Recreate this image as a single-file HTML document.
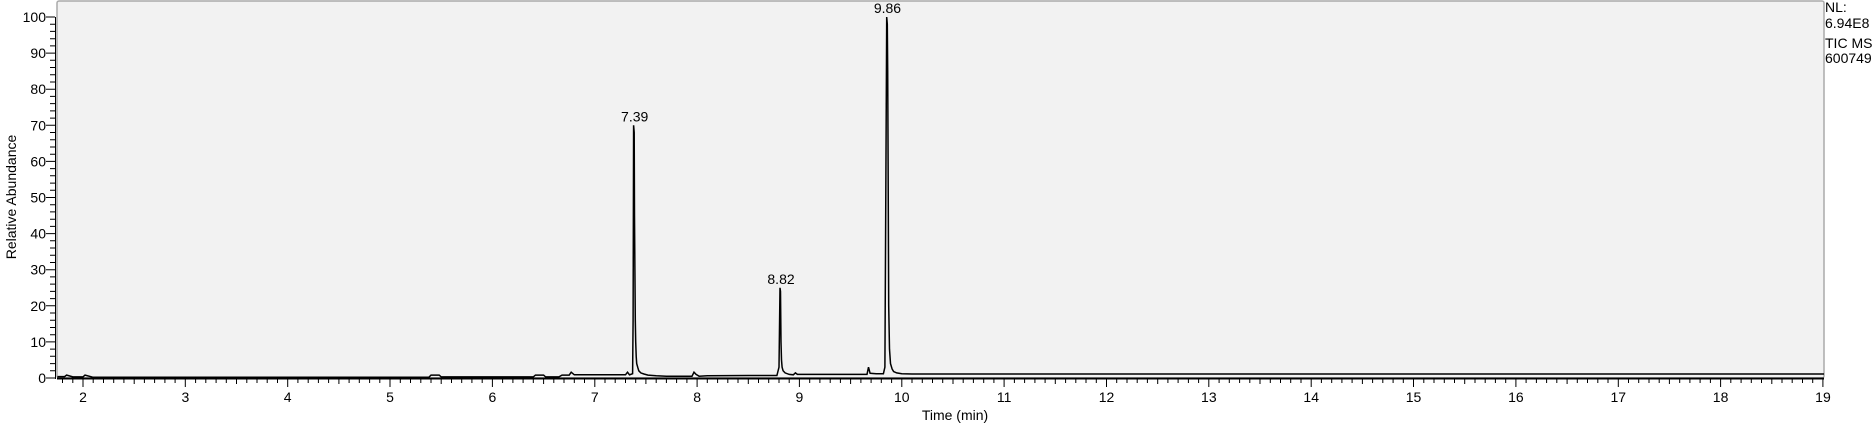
<!DOCTYPE html>
<html><head><meta charset="utf-8"><style>
html,body{margin:0;padding:0;background:#fff;}
svg{display:block;font-family:"Liberation Sans",Arial,sans-serif;}
</style></head><body>
<svg id="chart" width="1876" height="427" viewBox="0 0 1876 427" xmlns="http://www.w3.org/2000/svg">
<rect x="57" y="1" width="1767" height="377" fill="#f2f2f2" stroke="#aaaaaa" stroke-width="1.5" rx="2"/>
<g id="ticks"></g>
<path id="trace" fill="none" stroke="#000" stroke-width="1.5"/>
<line x1="57" y1="378.5" x2="1824" y2="378.5" stroke="#000" stroke-width="2"/>
<line x1="55.5" y1="17" x2="55.5" y2="379" stroke="#000" stroke-width="1"/>
<g id="labels"></g>
<text x="955" y="420" font-size="14" text-anchor="middle">Time (min)</text>
<text transform="translate(16,197) rotate(-90)" font-size="14" text-anchor="middle">Relative Abundance</text>
<g font-size="14">
<text x="1825" y="12">NL:</text>
<text x="1825" y="28">6.94E8</text>
<text x="1825" y="48">TIC  MS</text>
<text x="1825" y="63">600749</text>
</g>
</svg>
<script>
const times = [1.75,1.82,1.84,1.9,2.0,2.02,2.1,3,4,5,5.38,5.4,5.48,5.5,6,6.4,6.42,6.5,6.52,6.65,6.68,6.75,6.77,6.8,7.0,7.3,7.32,7.34,7.37,7.375,7.38,7.385,7.388,7.392,7.396,7.40,7.405,7.41,7.42,7.43,7.45,7.48,7.52,7.6,7.7,7.95,7.97,7.99,8.02,8.1,8.5,8.78,8.80,8.81,8.815,8.82,8.825,8.83,8.84,8.86,8.9,8.94,8.96,8.98,9.1,9.5,9.66,9.675,9.69,9.75,9.82,9.835,9.845,9.852,9.858,9.862,9.866,9.872,9.88,9.89,9.905,9.92,9.95,10.0,10.1,10.5,12,14,16,18,19.01];
const abundance = [0.4,0.4,0.8,0.3,0.3,0.8,0.2,0.2,0.2,0.2,0.2,0.8,0.8,0.3,0.3,0.3,0.8,0.8,0.3,0.3,0.8,0.8,1.6,0.9,0.9,0.9,1.6,0.9,1.2,16,70,68,45,30,16,10,6,4,3,2,1.4,1.1,0.8,0.6,0.5,0.5,1.6,1.0,0.5,0.6,0.7,0.7,3,25,24,10,5,3,2,1.4,1.0,0.9,1.4,1.0,1.0,1.0,1.0,3,1.3,1.2,1.2,3,56,100,98,85,60,20,8,4,2.5,1.8,1.4,1.2,1.1,1.1,1.1,1.1,1.1,1.1,1.1];
const peakTimes = [7.39,8.82,9.86];
const peakLabels = ["7.39","8.82","9.86"];
const peakHeights = [70,25,100];
const xTickLabels = ["2","3","4","5","6","7","8","9","10","11","12","13","14","15","16","17","18","19"];
const yTickLabels = ["0","10","20","30","40","50","60","70","80","90","100"];

const X = t => 83 + (t - 2) * 102.35;
const Y = v => 378 - v * 3.61;
const NS = "http://www.w3.org/2000/svg";

let d = "";
for (let i = 0; i < times.length; i++) {
  const x = Math.min(Math.max(X(times[i]), 57), 1824);
  d += (i ? "L" : "M") + x.toFixed(1) + " " + Y(abundance[i]).toFixed(1);
}
document.getElementById("trace").setAttribute("d", d);

const ticks = document.getElementById("ticks");
const labels = document.getElementById("labels");
let tp = "";
for (let k = 18; k <= 190; k++) {
  const t = k / 10;
  const x = X(t);
  if (x > 1824.5) break;
  const len = (k % 10 === 0) ? 8 : (k % 5 === 0 ? 5 : 4);
  tp += "M" + x.toFixed(1) + " 379V" + (379 + len);
}
for (let v = 0; v <= 100; v += 2) {
  const y = Y(v);
  const len = (v % 10 === 0) ? 9 : 5;
  tp += "M55 " + y.toFixed(1) + "H" + (55 - len);
}
const tk = document.createElementNS(NS, "path");
tk.setAttribute("d", tp);
tk.setAttribute("stroke", "#000");
tk.setAttribute("stroke-width", "1");
tk.setAttribute("fill", "none");


ticks.appendChild(tk);

xTickLabels.forEach(s => {
  const el = document.createElementNS(NS, "text");
  el.setAttribute("x", X(parseFloat(s)));
  el.setAttribute("y", 402);
  el.setAttribute("font-size", "14");
  el.setAttribute("text-anchor", "middle");
  el.textContent = s;
  
  
  labels.appendChild(el);
});
yTickLabels.forEach(s => {
  const el = document.createElementNS(NS, "text");
  el.setAttribute("x", 46);
  el.setAttribute("y", Y(parseFloat(s)) + 5);
  el.setAttribute("font-size", "14");
  el.setAttribute("text-anchor", "end");
  el.textContent = s;
  
  
  labels.appendChild(el);
});
peakTimes.forEach((t, i) => {
  const el = document.createElementNS(NS, "text");
  el.setAttribute("x", X(t));
  el.setAttribute("y", Y(peakHeights[i]) - 4);
  el.setAttribute("font-size", "14");
  el.setAttribute("text-anchor", "middle");
  el.textContent = peakLabels[i];
  
  
  labels.appendChild(el);
});
</script>
</body></html>
